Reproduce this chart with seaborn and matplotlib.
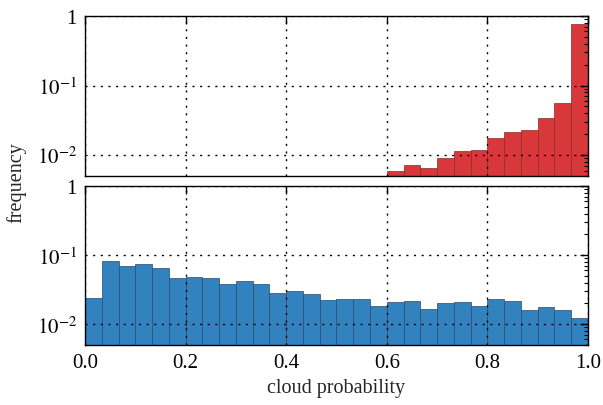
import numpy as np
import pandas as pd
import seaborn as sns
import matplotlib.pyplot as plt
from matplotlib.ticker import LogLocator, FixedLocator

# histogram values (30 bins of width 1/30)
cloudy_edges = list(np.linspace(0.6, 1.0, 13))
cloudy_freq = [0.0060, 0.0071, 0.0065, 0.0091, 0.0114, 0.0118,
               0.0179, 0.0218, 0.0226, 0.0342, 0.057, 0.78]

clear_edges = list(np.linspace(0.0, 1.0, 31))
clear_freq = [0.024, 0.0835, 0.070, 0.074, 0.066, 0.047, 0.048, 0.046,
              0.0388, 0.0424, 0.0388, 0.0287, 0.0307, 0.0272, 0.0223,
              0.023, 0.023, 0.0182, 0.0206, 0.0215, 0.0168, 0.0201,
              0.021, 0.0182, 0.0228, 0.0213, 0.0163, 0.0176, 0.0161, 0.0121]

sns.set_style('white')
plt.rcParams['font.family'] = ['Liberation Serif', 'DejaVu Serif']
plt.rcParams['mathtext.fontset'] = 'stix'
plt.rcParams['font.size'] = 14

fig = plt.figure(figsize=(6.03, 4.06), dpi=100)
ax1 = fig.add_axes([0.141, 0.564, 0.834, 0.394])
ax2 = fig.add_axes([0.141, 0.148, 0.834, 0.391])

panels = [(ax1, cloudy_edges, cloudy_freq, '#d8383a', '#8a2a2a'),
          (ax2, clear_edges, clear_freq, '#3282c0', '#2a4a6a')]

for ax, edges, freq, col, ec in panels:
    e = np.array(edges)
    df = pd.DataFrame({'p': (e[:-1] + e[1:]) / 2, 'f': freq})
    sns.histplot(data=df, x='p', weights='f', bins=edges, ax=ax, color=col,
                 alpha=1, edgecolor=ec, linewidth=0.5)
    ax.set_yscale('log')
    ax.set_ylim(0.005, 1)
    ax.set_xlim(0, 1)
    ax.set_ylabel('')
    ax.set_xlabel('')
    ax.yaxis.set_major_locator(FixedLocator([0.01, 0.1, 1]))
    ax.set_yticklabels([r'$10^{-2}$', r'$10^{-1}$', '1'])
    ax.yaxis.set_minor_locator(LogLocator(base=10, subs=np.arange(2, 10)))
    ax.set_xticks([0, 0.2, 0.4, 0.6, 0.8, 1.0])
    ax.tick_params(which='both', direction='in', top=True, right=True,
                   colors='black', labelsize=15, pad=6)
    ax.tick_params(which='major', length=6, width=1)
    ax.tick_params(which='minor', length=3, width=0.8)
    ax.grid(True, which='major', linestyle=(0, (1.5, 4)), color='black',
            linewidth=1)
    ax.set_axisbelow(False)
    for s in ax.spines.values():
        s.set_color('black')
        s.set_linewidth(1)

ax1.set_xticklabels([])
ax2.set_xticklabels(['0.0', '0.2', '0.4', '0.6', '0.8', '1.0'])
ax2.set_xlabel('cloud probability', fontsize=14.5, labelpad=4)
fig.text(0.028, 0.55, 'frequency', rotation=90, va='center', ha='center',
         fontsize=14.5)

fig.savefig('out.png', dpi=100)
